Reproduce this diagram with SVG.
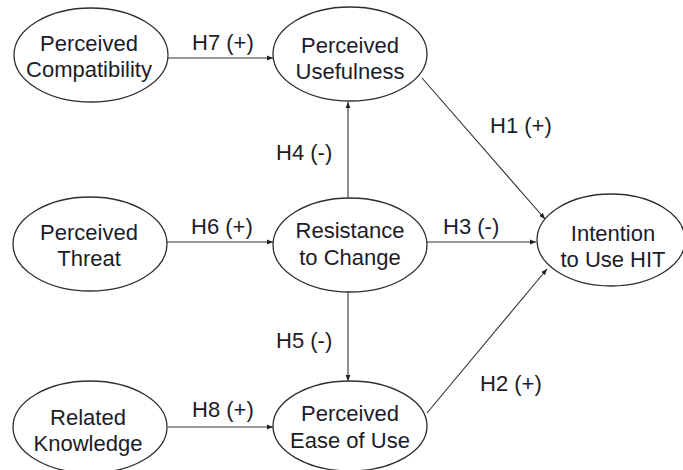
<svg xmlns="http://www.w3.org/2000/svg" width="683" height="470" viewBox="0 0 683 470">
  <style>
    .node ellipse { fill: #ffffff; stroke: #2e2e2e; stroke-width: 1.3; }
    .node text { font-family: "Liberation Sans", Arial, sans-serif; font-size: 22px; fill: #1c1c28; text-anchor: middle; }
    .edge { stroke: #333333; stroke-width: 1.1; fill: none; marker-end: url(#arrow); }
    .label { font-family: "Liberation Sans", Arial, sans-serif; font-size: 22px; fill: #1c1c28; }
  </style>
  <defs>
    <marker id="arrow" viewBox="0 0 10 10" refX="10" refY="5" markerWidth="6" markerHeight="6" markerUnits="userSpaceOnUse" orient="auto">
      <path d="M0,1 L10,5 L0,9 Z" fill="#222222"/>
    </marker>
  </defs>
  <rect width="683" height="470" fill="#ffffff"/>

  <!-- connectors -->
  <g id="connectors">
    <line class="edge" x1="168" y1="58" x2="273" y2="58"/>
    <line class="edge" x1="167" y1="242" x2="273" y2="242"/>
    <line class="edge" x1="427" y1="242" x2="536" y2="242"/>
    <line class="edge" x1="168" y1="427" x2="273" y2="427"/>
    <line class="edge" x1="348" y1="198" x2="348" y2="102"/>
    <line class="edge" x1="348" y1="292" x2="348" y2="381"/>
    <line class="edge" x1="422" y1="78" x2="545" y2="219"/>
    <line class="edge" x1="427" y1="413" x2="547" y2="269"/>
  </g>

  <!-- hypothesis labels -->
  <g id="labels">
    <text class="label" x="192" y="50">H7 (+)</text>
    <text class="label" x="191" y="234">H6 (+)</text>
    <text class="label" x="443" y="234">H3 (-)</text>
    <text class="label" x="276" y="160">H4 (-)</text>
    <text class="label" x="276" y="348">H5 (-)</text>
    <text class="label" x="192" y="417">H8 (+)</text>
    <text class="label" x="490" y="133">H1 (+)</text>
    <text class="label" x="480" y="391">H2 (+)</text>
  </g>

  <g id="perceived-compatibility" class="node">
    <ellipse cx="91" cy="55" rx="77" ry="47"/>
    <text x="89" y="51">Perceived</text>
    <text x="89" y="77">Compatibility</text>
  </g>

  <g id="perceived-usefulness" class="node">
    <ellipse cx="350" cy="54" rx="77" ry="47"/>
    <text x="350" y="53">Perceived</text>
    <text x="350" y="79">Usefulness</text>
  </g>

  <g id="perceived-threat" class="node">
    <ellipse cx="90" cy="244" rx="77" ry="47"/>
    <text x="89" y="240">Perceived</text>
    <text x="89" y="266">Threat</text>
  </g>

  <g id="resistance-to-change" class="node">
    <ellipse cx="350" cy="245" rx="77" ry="47"/>
    <text x="350" y="238">Resistance</text>
    <text x="350" y="265">to Change</text>
  </g>

  <g id="intention-to-use-hit" class="node">
    <ellipse cx="611" cy="240" rx="74" ry="46"/>
    <text x="613" y="241">Intention</text>
    <text x="613" y="267">to Use HIT</text>
  </g>

  <g id="related-knowledge" class="node">
    <ellipse cx="90" cy="427" rx="77" ry="46"/>
    <text x="88" y="425">Related</text>
    <text x="88" y="451">Knowledge</text>
  </g>

  <g id="perceived-ease-of-use" class="node">
    <ellipse cx="350" cy="426" rx="77" ry="45"/>
    <text x="350" y="421">Perceived</text>
    <text x="350" y="448">Ease of Use</text>
  </g>
</svg>
